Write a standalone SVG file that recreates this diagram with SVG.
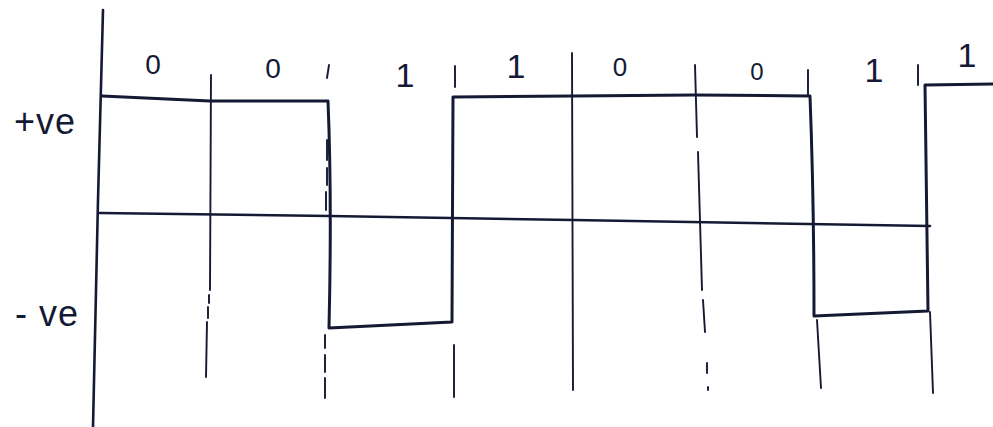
<svg xmlns="http://www.w3.org/2000/svg" width="993" height="427" viewBox="0 0 993 427">
<style>
.ink{fill:none;stroke:#141a33;stroke-linecap:round;stroke-linejoin:round}
.axis{stroke-width:2.6}
.sig{stroke-width:3}
.div{stroke-width:1.9}
.lbl{font-family:"Liberation Sans",Arial,sans-serif;fill:#141a33;text-anchor:middle}
</style>
<rect width="993" height="427" fill="#ffffff"/>
<g id="axes">
<path class="ink axis" d="M103,10 L98,200 L93,427"/>
<path class="ink axis" d="M100,213 L330,216 L573,220 L930,226"/>
</g>
<g id="dividers">
<path class="ink div" d="M211,75 L210,290 M209,295 L209,303 M208,307 L208,318 M207,322 L206,377"/>
<path class="ink div" d="M329,65 L327,78 M327,140 L327,160 M327,168 L327,185 M326,192 L326,210 M325,335 L325,348 M325,355 L325,372 M325,378 L325,398"/>
<path class="ink div" d="M455,66 L455,87 M454,345 L454,397"/>
<path class="ink div" d="M572,53 L573,390"/>
<path class="ink div" d="M695,65 L697,137 M698,152 L702,290 M703,300 L705,332 M707,363 L707,373 M708,387 L708,390"/>
<path class="ink div" d="M808,70 L808,96 M817,320 L821,388"/>
<path class="ink div" d="M918,65 L918,85 M930,312 L933,393"/>
</g>
<g id="signal">
<path class="ink sig" d="M102,96 L210,101 L328,101 Q332,200 329,328 L452,322 L453,97 L573,96 L695,95 L810,96 Q814,200 814,316 L928,311 L925,85 L993,84"/>
</g>
<g id="labels">
<text class="lbl" x="153" y="74" font-size="28">0</text>
<text class="lbl" x="273" y="78" font-size="28">0</text>
<text class="lbl" x="405" y="87" font-size="34">1</text>
<text class="lbl" x="516" y="78" font-size="34">1</text>
<text class="lbl" x="620" y="76" font-size="26">0</text>
<text class="lbl" x="757" y="80" font-size="24">0</text>
<text class="lbl" x="874" y="82" font-size="34">1</text>
<text class="lbl" x="967" y="67" font-size="34">1</text>
<text class="lbl" x="45" y="134" font-size="36" letter-spacing="1">+ve</text>
<text class="lbl" x="47" y="326" font-size="36" letter-spacing="1">- ve</text>
</g>
</svg>
